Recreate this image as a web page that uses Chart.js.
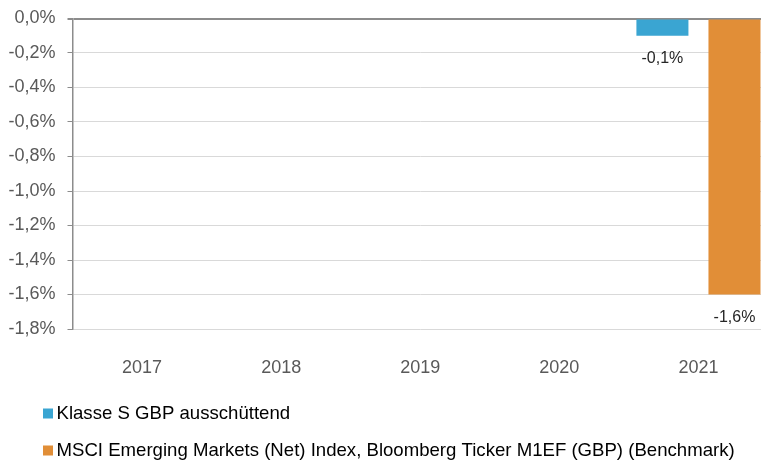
<!DOCTYPE html>
<html><head><meta charset="utf-8">
<script src="https://cdn.jsdelivr.net/npm/chart.js@4"></script>
<style>
html,body{margin:0;padding:0;background:#fff;overflow:hidden;width:761px;height:461px}
#wrap{width:768px;height:461px;position:relative}
</style></head>
<body><div id="wrap"><canvas id="c" width="768" height="461"></canvas></div>
<script>
const categories = ['2017', '2018', '2019', '2020', '2021'];
const seriesNames = ['Klasse S GBP ausschüttend', 'MSCI Emerging Markets (Net) Index, Bloomberg Ticker M1EF (GBP) (Benchmark)'];
const klasseValues = [null, null, null, null, -0.1];
const benchmarkValues = [null, null, null, null, -1.6];
const yMin = -1.8, yMax = 0, yStep = 0.2;
const colors = ['#3AA5D2', '#E18E37'];

const FONT = "'Liberation Sans', Arial, sans-serif";
const fmt = v => (Math.abs(v) < 1e-9 ? 0 : v).toFixed(1).replace('.', ',') + '%';

const dataLabels = {
  id: 'dataLabels',
  afterDatasetsDraw(chart) {
    const ctx = chart.ctx;
    ctx.save();
    ctx.font = '16px ' + FONT;
    ctx.fillStyle = '#262626';
    ctx.textAlign = 'center';
    ctx.textBaseline = 'middle';
    chart.data.datasets.forEach((ds, i) => {
      const meta = chart.getDatasetMeta(i);
      meta.data.forEach((bar, j) => {
        const v = ds.data[j];
        if (v === null || v === undefined) return;
        const y = v < 0 ? bar.y + 23 : bar.y - 23;
        ctx.fillText(fmt(v), bar.x, y);
      });
    });
    ctx.restore();
  }
};

const customLegend = {
  id: 'customLegend',
  afterDraw(chart) {
    const ctx = chart.ctx;
    const base = chart.chartArea.bottom;
    ctx.save();
    ctx.font = '18.6px ' + FONT;
    ctx.textBaseline = 'middle';
    ctx.textAlign = 'left';
    chart.data.datasets.forEach((ds, i) => {
      const cy = base + 84.5 + i * 37;
      ctx.fillStyle = ds.backgroundColor;
      ctx.fillRect(43, cy - 5, 10, 10);
      ctx.fillStyle = '#000000';
      ctx.fillText(ds.label, 56.5, cy);
    });
    ctx.restore();
  }
};

new Chart(document.getElementById('c'), {
  type: 'bar',
  data: {
    labels: categories,
    datasets: [
      { label: seriesNames[0], data: klasseValues, backgroundColor: colors[0] },
      { label: seriesNames[1], data: benchmarkValues, backgroundColor: colors[1] }
    ]
  },
  options: {
    responsive: false,
    animation: false,
    devicePixelRatio: 1,
    layout: { padding: { top: 18.5, right: 0, bottom: 72, left: 0 } },
    datasets: { bar: { categoryPercentage: 1.036, barPercentage: 0.722 } },
    plugins: { legend: { display: false }, tooltip: { enabled: false } },
    scales: {
      x: {
        grid: { display: false, drawTicks: false },
        border: { display: false },
        ticks: { color: '#595959', font: { family: FONT, size: 18 }, padding: 28, maxRotation: 0 },
        afterFit(s) { s.height = 60; s.paddingLeft = 0; s.paddingRight = 0; }
      },
      y: {
        min: yMin, max: yMax,
        grid: {
          color: c => (c.tick && Math.abs(c.tick.value) < 1e-9) ? '#8c8c8c' : '#d9d9d9',
          lineWidth: c => (c.tick && Math.abs(c.tick.value) < 1e-9) ? 2 : 1,
          tickColor: '#8c8c8c',
          tickLength: 5
        },
        border: { display: true, color: '#8c8c8c', width: 1.5 },
        ticks: {
          stepSize: yStep,
          color: '#595959',
          font: { family: FONT, size: 18 },
          padding: 12,
          callback: v => fmt(v)
        },
        afterFit(s) { s.width = 72.5; s.paddingTop = 0; s.paddingBottom = 0; }
      }
    }
  },
  plugins: [dataLabels, customLegend]
});
</script>
</body></html>
